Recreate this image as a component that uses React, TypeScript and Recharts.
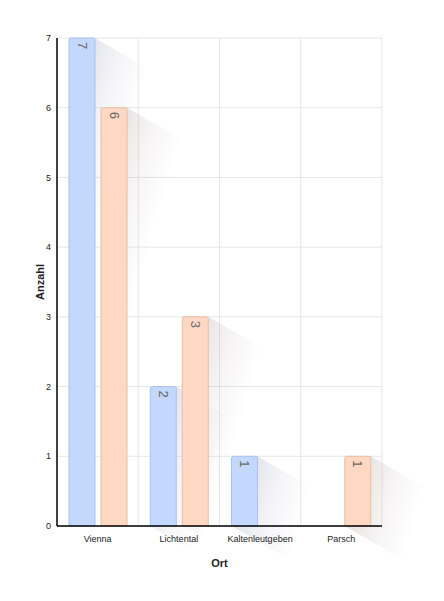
import { BarChart, Bar, XAxis, YAxis, CartesianGrid, LabelList } from 'recharts';

const places = ['Vienna', 'Lichtental', 'Kaltenleutgeben', 'Parsch'];
const seriesA = [7, 2, 1, null];
const seriesB = [6, 3, null, 1];
const yTicks = [0, 1, 2, 3, 4, 5, 6, 7];

const data = places.map((name, i) => ({ name, a: seriesA[i], b: seriesB[i] }));

const W = 444;
const H = 601;
const FONT = '"Liberation Sans", Arial, Helvetica, sans-serif';

const BLUE = { fill: '#c3d8fc', stroke: '#a9c1ee', shadow: '#a4a8c0' };
const ORANGE = { fill: '#fed8c3', stroke: '#e6bda6', shadow: '#b4a6a0' };

const SHADOW_LEN = 58;
const SHADOW_SLOPE = 0.58;

function makeShadow(tone: string, color: string) {
  return (props: any) => {
    const { x, y, width, height, index } = props;
    if (!height || height <= 0) return null;
    const S = SHADOW_LEN;
    const d = S * SHADOW_SLOPE;
    const r = x + width;
    const pts = [
      [r, y],
      [r + S, y + d],
      [r + S, y + height + d],
      [x + S, y + height + d],
      [x, y + height],
      [r, y + height],
    ]
      .map((p) => p.join(','))
      .join(' ');
    const id = `sh-${tone}-${index}`;
    return (
      <g>
        <defs>
          <linearGradient id={id} gradientUnits="userSpaceOnUse" x1={r} y1={y} x2={r + S} y2={y + d * 0.5}>
            <stop offset="0" stopColor={color} stopOpacity={0.3} />
            <stop offset="0.45" stopColor={color} stopOpacity={0.12} />
            <stop offset="1" stopColor={color} stopOpacity={0} />
          </linearGradient>
        </defs>
        <polygon points={pts} fill={`url(#${id})`} />
      </g>
    );
  };
}

const RotLabel = (props: any) => {
  const vb = props.viewBox ?? props;
  const { x, y, width } = vb;
  const { value } = props;
  if (value == null) return null;
  const cx = x + width / 2;
  const cy = y + 4;
  return (
    <text
      x={cx}
      y={cy}
      transform={`rotate(90 ${cx} ${cy})`}
      fill="#666"
      fontSize={13}
      fontFamily={FONT}
      textAnchor="start"
      dominantBaseline="central"
    >
      {value}
    </text>
  );
};

function Layer({ shadows }: { shadows: boolean }) {
  const tickFill = shadows ? 'transparent' : '#222';
  const axisStroke = shadows ? 'transparent' : '#000';
  return (
    <BarChart
      width={W}
      height={H}
      data={data}
      margin={{ top: 38, right: 62, left: 0, bottom: 0 }}
      barCategoryGap={12}
      barGap={6}
      style={{ fontFamily: FONT }}
    >
      {shadows && (
        <CartesianGrid
          stroke="#e6e6e6"
          verticalCoordinatesGenerator={({ offset }: any) =>
            places.map((_, i) => offset.left + (offset.width * (i + 1)) / places.length)
          }
        />
      )}
      <XAxis
        dataKey="name"
        height={75}
        tickLine={false}
        tickSize={0}
        tickMargin={10}
        interval={0}
        axisLine={{ stroke: axisStroke, strokeWidth: 1.5 }}
        tick={{ fill: tickFill, fontSize: 9 }}
        label={{ value: 'Ort', position: 'center', fill: tickFill, fontSize: 11, fontWeight: 'bold' }}
      />
      <YAxis
        width={57}
        domain={[0, 7]}
        ticks={yTicks}
        tickLine={false}
        tickSize={0}
        tickMargin={6}
        axisLine={{ stroke: axisStroke, strokeWidth: 1.5 }}
        tick={{ fill: tickFill, fontSize: 9 }}
        label={{ value: 'Anzahl', angle: -90, position: 'center', dx: 12, fill: tickFill, fontSize: 11, fontWeight: 'bold' }}
      />
      {shadows ? (
        <Bar dataKey="a" isAnimationActive={false} shape={makeShadow('a', BLUE.shadow)} />
      ) : (
        <Bar dataKey="a" fill={BLUE.fill} stroke={BLUE.stroke} radius={[2, 2, 0, 0]} isAnimationActive={false}>
          <LabelList dataKey="a" content={RotLabel} />
        </Bar>
      )}
      {shadows ? (
        <Bar dataKey="b" isAnimationActive={false} shape={makeShadow('b', ORANGE.shadow)} />
      ) : (
        <Bar dataKey="b" fill={ORANGE.fill} stroke={ORANGE.stroke} radius={[2, 2, 0, 0]} isAnimationActive={false}>
          <LabelList dataKey="b" content={RotLabel} />
        </Bar>
      )}
    </BarChart>
  );
}

export default function App() {
  return (
    <div style={{ position: 'absolute', left: 0, top: 0, width: W, height: H, background: '#fff' }}>
      <div style={{ position: 'absolute', left: 0, top: 0 }}>
        <Layer shadows />
      </div>
      <div style={{ position: 'absolute', left: 0, top: 0 }}>
        <Layer shadows={false} />
      </div>
    </div>
  );
}
